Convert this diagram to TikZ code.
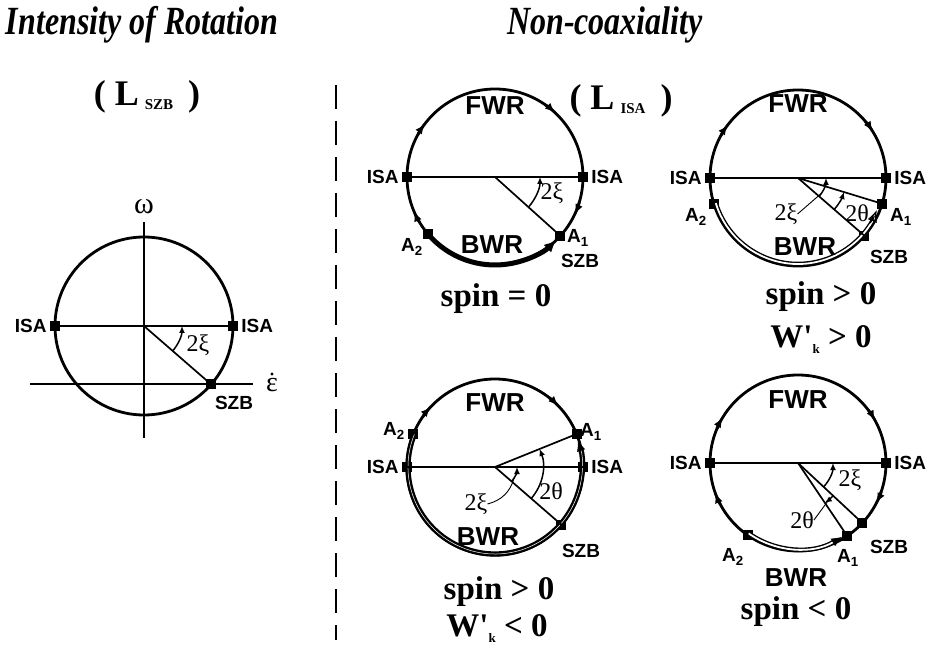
\documentclass[tikz,border=0pt]{standalone}
\usepackage{fontspec}
\setmainfont{Liberation Serif}
\setsansfont{Liberation Sans}
\usetikzlibrary{positioning,arrows.meta,calc}

\begin{document}
\begin{tikzpicture}[x=1pt, y=1pt,
    every node/.style={inner sep=0pt},
    rim/.style={line width=2.8pt},
    ray/.style={line width=1.7pt},
    sq/.style={fill, minimum size=10pt, inner sep=0pt},
    tag/.style={font=\fontsize{19}{19}\selectfont\sffamily\bfseries},
    zone/.style={font=\fontsize{26}{26}\selectfont\sffamily\bfseries},
    ang/.style={font=\fontsize{24}{24}\selectfont},
    signtext/.style={font=\fontsize{33}{33}\selectfont\bfseries},
    headline/.style={font=\fontsize{40}{40}\selectfont\bfseries\itshape, xscale=0.8, transform shape},
    cwtip/.style={rim, -{Latex[length=10pt,width=8pt]}},
    angarc/.style={line width=1.5pt, -{Latex[length=7pt,width=6pt]}},
    bwrdouble/.style={line width=1.4pt, double=white, double distance=1.8pt},
]
\useasboundingbox (0,0) rectangle (932,649);

% Titles
\node[headline] (t1) at (142,624) {Intensity of Rotation};
\node[headline] (t2) at (605,624) {Non-coaxiality};
\node[font=\fontsize{36}{36}\selectfont\bfseries] (lszb) at (147,552) {( L\,\raisebox{-4pt}{\fontsize{15}{15}\selectfont SZB}\, )};
\node[font=\fontsize{36}{36}\selectfont\bfseries] (lisa) at (621,548) {( L\,\raisebox{-4pt}{\fontsize{15}{15}\selectfont ISA}\, )};

% Divider
\coordinate (dtop) at (336,564);
\coordinate (dbot) at (336,9);
\draw[line width=1.8pt, dash pattern=on 24pt off 12pt] (dtop) -- (dbot);

% Intensity of rotation circle
\coordinate (c0) at (144,323);
\coordinate (wtop) at (144,427);
\coordinate (wbot) at (144,211);
\coordinate (eleft) at (30,265);
\coordinate (eright) at (253,265);
\draw[rim] (c0) circle (89);
\draw[ray] (wbot) -- (wtop);
\draw[ray] (eleft) -- (eright);
\node[sq] (c0l) at ($(c0)+(180:89)$) {};
\node[sq] (c0r) at ($(c0)+(0:89)$) {};
\node[sq] (c0s) at ($(c0)+(-41:89)$) {};
\draw[ray] (c0l.center) -- (c0r.center);
\draw[ray] (c0) -- (c0s.center);
\draw[angarc] ($(c0)+(-41:38)$) arc[start angle=-41, end angle=0, radius=38];
\node[tag, left=3pt of c0l] {ISA};
\node[tag, right=3pt of c0r] {ISA};
\node[tag] at (234,246) {SZB};
\node[ang] at (198,304) {2ξ};
\node[font=\fontsize{30}{30}\selectfont] at (144,442) {ω};
\node[font=\fontsize{28}{28}\selectfont] (edot) at (272,264) {ε};
\fill ($(edot.north)+(0,4)$) circle (1.6);

% spin = 0
\coordinate (c1) at (495,472);
\draw[rim] (c1) circle (88);
\node[sq] (c1l) at ($(c1)+(180:88)$) {};
\node[sq] (c1r) at ($(c1)+(0:88)$) {};
\node[sq] (c1s) at ($(c1)+(-42:88)$) {};
\node[sq] (c1a) at ($(c1)+(-140:88)$) {};
\draw[ray] (c1l.center) -- (c1r.center);
\draw[ray] (c1) -- (c1s.center);
\draw[line width=5pt, -{Latex[length=12pt,width=11pt]}] (c1a.center) arc[start angle=-140, end angle=-46, radius=88];
\foreach \a in {143,47,-25,203}
  \draw[cwtip] ($(c1)+(\a+8:88)$) arc[start angle=\a+8, end angle=\a, radius=88];
\draw[angarc] ($(c1)+(-42:45)$) arc[start angle=-42, end angle=0, radius=45];
\node[tag, left=3pt of c1l] {ISA};
\node[tag, right=3pt of c1r] {ISA};
\node[zone] at (495,543) {FWR};
\node[zone] at (492,404) {BWR};
\node[tag] at (578,411) {A\textsubscript{1}};
\node[tag] at (580,388) {SZB};
\node[tag] at (412,402) {A\textsubscript{2}};
\node[ang] at (552,456) {2ξ};
\node[signtext] at (496,350) {spin = 0};

% spin > 0, W'k > 0
\coordinate (c2) at (798,471);
\draw[rim] (c2) circle (88);
\node[sq] (c2l) at ($(c2)+(180:88)$) {};
\node[sq] (c2r) at ($(c2)+(0:88)$) {};
\node[sq] (c2s) at ($(c2)+(-41:88)$) {};
\node[sq] (c2a) at ($(c2)+(-17:88)$) {};
\node[sq] (c2b) at ($(c2)+(197:88)$) {};
\draw[bwrdouble] ($(c2)+(197:86)$) arc[start angle=197, end angle=333, radius=86];
\draw[line width=1.4pt, -{Latex[open,length=12pt,width=10pt]}] ($(c2)+(328:85)$) arc[start angle=328, end angle=338, radius=85];
\draw[ray] (c2l.center) -- (c2r.center);
\draw[ray] (c2) -- (c2s.center);
\draw[ray] (c2) -- (c2a.center);
\foreach \a in {143,32}
  \draw[cwtip] ($(c2)+(\a+8:88)$) arc[start angle=\a+8, end angle=\a, radius=88];
\draw[angarc] ($(c2)+(-41:28)$) arc[start angle=-41, end angle=0, radius=28];
\draw[angarc] ($(c2)+(-41:48)$) arc[start angle=-41, end angle=-17, radius=48];
\node[tag, left=3pt of c2l] {ISA};
\node[tag, right=3pt of c2r] {ISA};
\node[zone] at (798,545) {FWR};
\node[zone] at (805,402) {BWR};
\node[tag] at (901,432) {A\textsubscript{1}};
\node[tag] at (889,392) {SZB};
\node[tag] at (696,432) {A\textsubscript{2}};
\node[ang] (xi2) at (786,435) {2ξ};
\draw[line width=0.9pt] (xi2.east) -- ($(c2)+(-33:28)$);
\node[ang] at (857,436) {2θ};
\node[signtext] at (821,352) {spin > 0};
\node[signtext] at (821,309) {W\textquotesingle\raisebox{-6pt}{\fontsize{13}{13}\selectfont k} > 0};

% spin > 0, W'k < 0
\coordinate (c3) at (495,182);
\draw[rim] (c3) circle (88);
\node[sq] (c3l) at ($(c3)+(180:88)$) {};
\node[sq] (c3r) at ($(c3)+(0:88)$) {};
\node[sq] (c3s) at ($(c3)+(-41:88)$) {};
\node[sq] (c3a) at ($(c3)+(22:88)$) {};
\node[sq] (c3b) at ($(c3)+(158:88)$) {};
\draw[line width=2.4pt, double=white, double distance=0.5pt, -{Latex[open,length=11pt,width=9pt]}] ($(c3)+(158:87)$) arc[start angle=158, end angle=378, radius=87];
\draw[ray] (c3l.center) -- (c3r.center);
\draw[ray] (c3) -- (c3s.center);
\draw[ray] (c3) -- (c3a.center);
\foreach \a in {137,44}
  \draw[cwtip] ($(c3)+(\a+8:88)$) arc[start angle=\a+8, end angle=\a, radius=88];
\draw[angarc] ($(c3)+(-41:22)$) arc[start angle=-41, end angle=0, radius=22];
\draw[angarc] ($(c3)+(-41:48)$) arc[start angle=-41, end angle=22, radius=48];
\node[tag, left=3pt of c3l] {ISA};
\node[tag, right=3pt of c3r] {ISA};
\node[zone] at (495,246) {FWR};
\node[zone] at (488,112) {BWR};
\node[tag] at (591,217) {A\textsubscript{1}};
\node[tag] at (581,98) {SZB};
\node[tag] at (394,218) {A\textsubscript{2}};
\node[ang] (xi3) at (476,145) {2ξ};
\draw[line width=0.9pt] (xi3.east) to[bend right=30] ($(c3)+(-30:22)$);
\node[ang] at (551,158) {2θ};
\node[signtext] at (499,57) {spin > 0};
\node[signtext] at (497,20) {W\textquotesingle\raisebox{-6pt}{\fontsize{13}{13}\selectfont k} < 0};

% spin < 0
\coordinate (c4) at (798,186);
\draw[rim] (c4) circle (88);
\node[sq] (c4l) at ($(c4)+(180:88)$) {};
\node[sq] (c4r) at ($(c4)+(0:88)$) {};
\node[sq] (c4s) at ($(c4)+(-43:88)$) {};
\node[sq] (c4a) at ($(c4)+(-56:88)$) {};
\node[sq] (c4b) at ($(c4)+(-125:88)$) {};
\draw[bwrdouble, -{Latex[length=11pt,width=9pt]}] ($(c4)+(-125:86)$) arc[start angle=-125, end angle=-59, radius=86];
\draw[ray] (c4l.center) -- (c4r.center);
\draw[ray] (c4) -- (c4s.center);
\draw[ray] (c4) -- (c4a.center);
\foreach \a in {149,29,-27,200}
  \draw[cwtip] ($(c4)+(\a+8:88)$) arc[start angle=\a+8, end angle=\a, radius=88];
\draw[angarc] ($(c4)+(-43:35)$) arc[start angle=-43, end angle=0, radius=35];
\draw[angarc] ($(c4)+(-43:48)$) arc[start angle=-43, end angle=-56, radius=48];
\node[tag, left=3pt of c4l] {ISA};
\node[tag, right=3pt of c4r] {ISA};
\node[zone] at (798,249) {FWR};
\node[zone] at (796,71) {BWR};
\node[tag] at (848,91) {A\textsubscript{1}};
\node[tag] at (889,102) {SZB};
\node[tag] at (733,92) {A\textsubscript{2}};
\node[ang] at (850,169) {2ξ};
\node[ang] (th4) at (802,129) {2θ};
\draw[line width=0.9pt] (th4.east) -- ($(c4)+(-50:48)$);
\node[signtext] at (796,37) {spin < 0};
\end{tikzpicture}
\end{document}
